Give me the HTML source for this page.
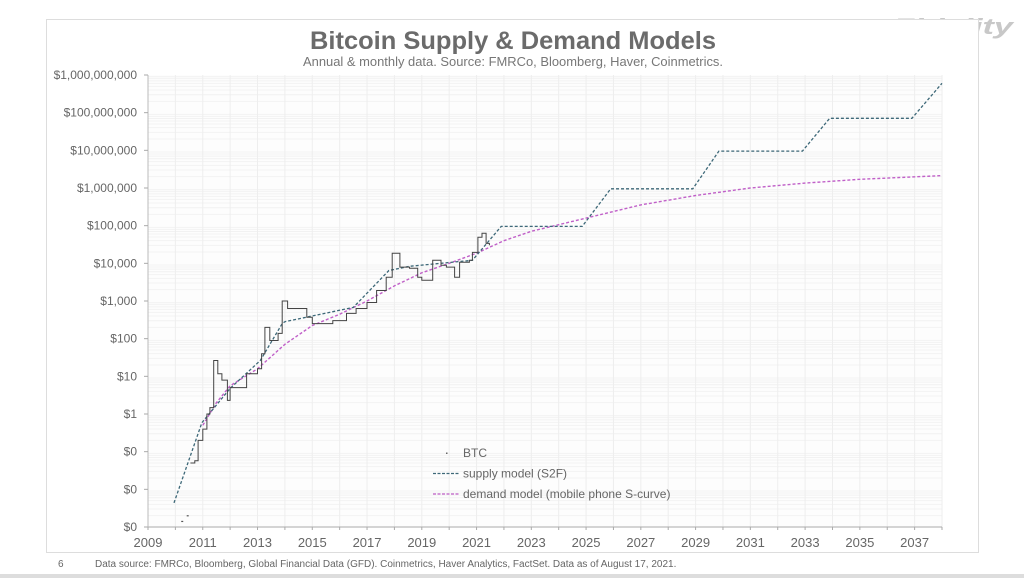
<!DOCTYPE html>
<html><head><meta charset="utf-8"><style>
html,body{margin:0;padding:0;background:#fff;}
svg{display:block;font-family:"Liberation Sans",sans-serif;}
</style></head><body>
<svg id="chart" width="1024" height="578" viewBox="0 0 1024 578" xmlns="http://www.w3.org/2000/svg">
<rect x="0" y="0" width="1024" height="578" fill="#fff"/>
<text x="893" y="34" font-size="22" font-weight="bold" font-style="italic" fill="#c8c8c8" textLength="120" lengthAdjust="spacingAndGlyphs">Fidelity</text>
<rect x="46.5" y="19.5" width="932" height="533" fill="#fff" stroke="#ddd" stroke-width="1"/>
<rect x="0" y="574" width="1024" height="4" fill="#ddd"/>
<text x="513" y="49" text-anchor="middle" font-size="25" font-weight="bold" fill="#6b6b6b" textLength="406" lengthAdjust="spacingAndGlyphs">Bitcoin Supply &amp; Demand Models</text>
<text x="513" y="66" text-anchor="middle" font-size="12.5" fill="#777" textLength="420" lengthAdjust="spacingAndGlyphs">Annual &amp; monthly data.  Source: FMRCo, Bloomberg, Haver, Coinmetrics.</text>
<text transform="translate(162,200) rotate(-90)" font-size="11" fill="#777">BTC price</text>
<text x="58" y="567" font-size="10" fill="#666">6</text>
<text x="95" y="567" font-size="10" fill="#666">Data source: FMRCo, Bloomberg, Global Financial Data (GFD). Coinmetrics, Haver Analytics, FactSet.  Data as of August 17, 2021.</text>
<g id="grid"></g><g id="axes"></g><g id="series"></g><g id="legend"></g>
</svg>
<script>
const yTickLabels=["$0","$0","$0","$1","$10","$100","$1,000","$10,000","$100,000","$1,000,000","$10,000,000","$100,000,000","$1,000,000,000"];
const yTickLogs=[-3,-2,-1,0,1,2,3,4,5,6,7,8,9];
const xTickYears=[2009,2011,2013,2015,2017,2019,2021,2023,2025,2027,2029,2031,2033,2035,2037];
const supplyYears=[2009.95,2010.97,2012.0,2013.1,2013.9,2014.0,2016.5,2017.8,2018.55,2020.85,2021.9,2024.86,2025.9,2028.9,2029.85,2032.9,2033.9,2036.9,2038];
const supplyLogs=[-2.36,-0.23,0.68,1.42,2.4,2.45,2.83,3.81,3.92,4.08,4.98,4.98,5.98,5.98,6.98,6.98,7.85,7.85,8.78];
const demandYears=[2011.0,2011.5,2012,2013,2014,2015,2016,2017,2018,2019,2020,2021,2022,2023,2025,2027,2029,2031,2033,2035,2038];
const demandLogs=[-0.3,0.3,0.75,1.2,1.85,2.35,2.65,3.0,3.4,3.75,4.0,4.27,4.6,4.85,5.2,5.55,5.8,6.0,6.13,6.23,6.33];
const btcYears=[2010.55,2010.71,2010.83,2011.0,2011.15,2011.26,2011.4,2011.55,2011.7,2011.9,2012.0,2012.35,2012.6,2013.0,2013.15,2013.27,2013.45,2013.75,2013.9,2014.1,2014.4,2014.8,2015.0,2015.3,2015.75,2016.25,2016.6,2017.0,2017.35,2017.7,2017.92,2018.2,2018.55,2018.85,2019.0,2019.4,2019.7,2019.9,2020.2,2020.38,2020.74,2020.85,2021.05,2021.2,2021.35,2021.47];
const btcLogs=[-1.3,-1.24,-0.7,-0.4,0.0,0.17,1.42,1.07,0.9,0.36,0.7,0.7,1.07,1.2,1.6,2.3,1.95,2.14,3.0,2.8,2.8,2.57,2.4,2.4,2.48,2.67,2.8,2.96,3.28,3.63,4.27,3.9,3.87,3.63,3.55,4.08,3.95,3.9,3.63,4.03,4.08,4.29,4.69,4.8,4.53,4.48];
const btcDotYears=[2010.25,2010.45];
const btcDotLogs=[-2.85,-2.7];

const NS="http://www.w3.org/2000/svg";
const X0=148,X1=942,Y0=527,Y1=75;
const xs=y=>X0+(y-2009)/(2038-2009)*(X1-X0);
const ys=l=>Y0-(l+3)/12*(Y0-Y1);
function mk(tag,attrs,parent){const e=document.createElementNS(NS,tag);for(const k in attrs)e.setAttribute(k,attrs[k]);parent.appendChild(e);return e;}
const grid=document.getElementById('grid'),axes=document.getElementById('axes'),series=document.getElementById('series'),legend=document.getElementById('legend');
const bg=mk('rect',{x:X0,y:Y1,width:X1-X0,height:Y0-Y1,fill:'#fdfdfd'},grid);


for(let d=-3;d<9;d++){for(let m=2;m<10;m++){const yy=ys(d+Math.log10(m));
const l=mk('line',{x1:X0,x2:X1,y1:yy,y2:yy,stroke:'#f2f2f2','stroke-width':1},grid);

}}
for(let yr=2010;yr<=2038;yr++){const xx=xs(yr);
const l=mk('line',{x1:xx,x2:xx,y1:Y1,y2:Y0,stroke:'#eeeeee','stroke-width':1},grid);

}
const ax=mk('line',{x1:X0,x2:X1,y1:Y0,y2:Y0,stroke:'#aaa'},axes);


const ay=mk('line',{x1:X0,x2:X0,y1:Y1,y2:Y0,stroke:'#bbb'},axes);


yTickLogs.forEach((l,i)=>{const yy=ys(l);
const t=mk('text',{x:137,y:yy+4,'text-anchor':'end','font-size':12,fill:'#666'},axes);t.textContent=yTickLabels[i];


mk('line',{x1:X0-4,x2:X0,y1:yy,y2:yy,stroke:'#aaa'},axes);});
for(let yr=2009;yr<=2038;yr++){const xx=xs(yr);mk('line',{x1:xx,x2:xx,y1:Y0,y2:Y0+3,stroke:'#aaa'},axes);}
xTickYears.forEach(yr=>{const t=mk('text',{x:xs(yr),y:547,'text-anchor':'middle','font-size':13,fill:'#666'},axes);t.textContent=yr;

});
function linePath(xa,la){return xa.map((y,i)=>(i?'L':'M')+xs(y).toFixed(1)+','+ys(la[i]).toFixed(1)).join('');}
const dem=mk('path',{d:linePath(demandYears,demandLogs),fill:'none',stroke:'#c060c8','stroke-width':1.4,'stroke-dasharray':'3,2'},series);


const sup=mk('path',{d:linePath(supplyYears,supplyLogs),fill:'none',stroke:'#3d6878','stroke-width':1.3,'stroke-dasharray':'3,2'},series);


let bd='';btcYears.forEach((y,i)=>{const xx=xs(y).toFixed(1),yy=ys(btcLogs[i]).toFixed(1);bd+=i?('H'+xx+'V'+yy):('M'+xx+','+yy);});
const btc=mk('path',{d:bd,fill:'none',stroke:'#444','stroke-width':1},series);


btcDotYears.forEach((y,i)=>{const c=mk('rect',{x:xs(y)-1,y:ys(btcDotLogs[i])-0.5,width:2,height:1.2,fill:'#555'},series);

});
const lg=[['BTC',null],['supply model (S2F)','#3d6878'],['demand model (mobile phone S-curve)','#c060c8']];
lg.forEach((e,i)=>{const yy=453+i*20.5;
if(e[1]){mk('line',{x1:433,x2:460,y1:yy,y2:yy,stroke:e[1],'stroke-width':1.3,'stroke-dasharray':'3,1.5'},legend);}
else{mk('rect',{x:446,y:yy-0.5,width:1.5,height:1.5,fill:'#666'},legend);}
const t=mk('text',{x:463,y:yy+4,'font-size':12,fill:'#666'},legend);t.textContent=e[0];

});
</script>
</body></html>
